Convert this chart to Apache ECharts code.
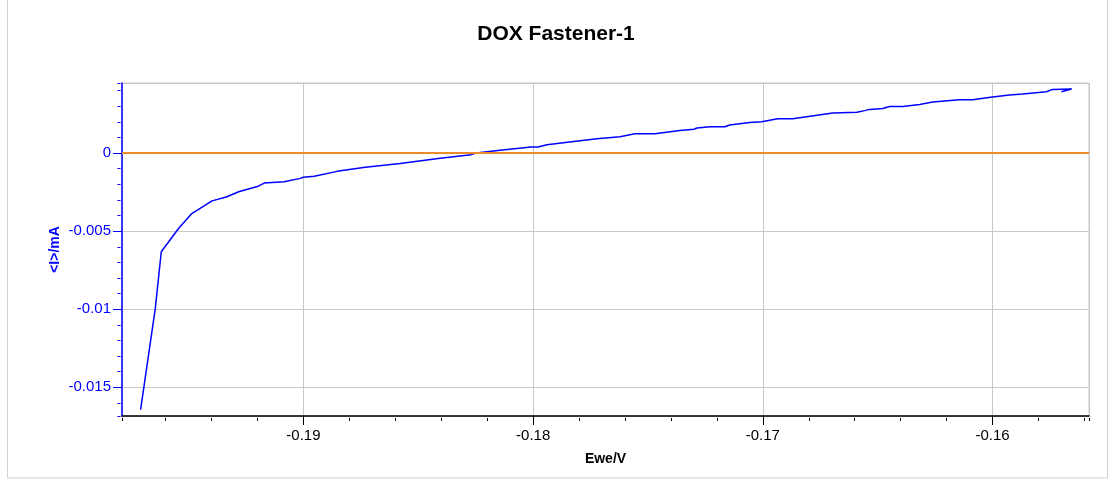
<!DOCTYPE html>
<html>
<head>
<meta charset="utf-8">
<script src="https://cdn.jsdelivr.net/npm/echarts@6/dist/echarts.min.js"></script>
<style>
  html, body { margin: 0; padding: 0; background: #fff; }
  #chart { width: 1112px; height: 481px; }
</style>
</head>
<body>
<div id="chart"></div>
<script>
// Ewe / V
const ewe = [
  -0.19709, -0.19645, -0.19619, -0.19543, -0.19488, -0.19398, -0.19336, -0.19282,
  -0.19197, -0.19171, -0.19084, -0.19014, -0.19001, -0.18953, -0.18854, -0.18731,
  -0.18579, -0.18405, -0.18270, -0.18248, -0.18144, -0.18009, -0.17979, -0.17940,
  -0.17805, -0.17722, -0.17622, -0.17557, -0.17470, -0.17361, -0.17300, -0.17287,
  -0.17230, -0.17165, -0.17144, -0.17057, -0.17005, -0.16935, -0.16870, -0.16696,
  -0.16591, -0.16556, -0.16535, -0.16478, -0.16448, -0.16391, -0.16317, -0.16261,
  -0.16144, -0.16087, -0.16000, -0.15926, -0.15869, -0.15765, -0.15739, -0.15656,
  -0.15700
];
// <I> / mA
const current = [
  -0.01643, -0.00995, -0.00632, -0.00481, -0.00390, -0.00306, -0.00281, -0.00248,
  -0.00212, -0.00192, -0.00184, -0.00162, -0.00155, -0.00148, -0.00117, -0.00091,
  -0.00066, -0.00033, -0.00010, 0.00000, 0.00019, 0.00039, 0.00039, 0.00053,
  0.00077, 0.00092, 0.00105, 0.00124, 0.00124, 0.00145, 0.00153, 0.00161,
  0.00169, 0.00169, 0.00180, 0.00196, 0.00201, 0.00220, 0.00220, 0.00257,
  0.00261, 0.00272, 0.00280, 0.00286, 0.00299, 0.00299, 0.00312, 0.00327,
  0.00342, 0.00342, 0.00359, 0.00372, 0.00379, 0.00393, 0.00408, 0.00411,
  0.00393
];

const xMin = -0.1979, xMax = -0.1558;
const yMin = -0.01684, yMax = 0.00449;

const chart = echarts.init(document.getElementById('chart'));
const font = 'Liberation Sans, Arial, sans-serif';

const option = {
  animation: false,
  title: {
    text: 'DOX Fastener-1',
    left: 'center',
    top: 19,
    textStyle: { fontSize: 21, fontWeight: 'bold', color: '#000', fontFamily: font },
  },
  graphic: [
    {
      type: 'rect',
      shape: { x: 7.5, y: -2, width: 1100, height: 480 },
      style: { fill: 'none', stroke: '#d0d0d0', lineWidth: 1 },
      silent: true,
    },
  ],
  grid: {
    left: 122,
    right: 23,
    top: 83,
    bottom: 65,
    show: true,
    borderColor: '#c8c8c8',
    borderWidth: 1,
  },
  xAxis: [
    {
      type: 'value',
      min: xMin,
      max: xMax,
      splitNumber: 4,
      name: 'Ewe/V',
      nameLocation: 'middle',
      nameGap: 36,
      nameMoveOverlap: false,
      nameTextStyle: { fontSize: 14, fontWeight: 'bold', color: '#000', fontFamily: font },
      axisLine: { onZero: false, lineStyle: { color: '#000', width: 1.5 } },
      axisTick: { length: 9, lineStyle: { color: '#000' } },
      axisLabel: {
        showMinLabel: false,
        showMaxLabel: false,
        fontSize: 15,
        color: '#000',
        fontFamily: font,
        margin: 12,
      },
      splitLine: { show: true, lineStyle: { color: '#c8c8c8', width: 1 } },
    },
    {
      type: 'value',
      min: xMin,
      max: xMax,
      splitNumber: 21,
      position: 'bottom',
      offset: 2,
      axisLine: { show: false, onZero: false },
      axisTick: { length: 3, lineStyle: { color: '#000' } },
      axisLabel: { show: false },
      splitLine: { show: false },
    },
  ],
  yAxis: [
    {
      type: 'value',
      min: yMin,
      max: yMax,
      splitNumber: 4,
      name: '<I>/mA',
      nameLocation: 'middle',
      nameGap: 60,
      nameMoveOverlap: false,
      nameTextStyle: { fontSize: 14, fontWeight: 'bold', color: '#0000ff', fontFamily: font },
      axisLine: { show: true, onZero: false, lineStyle: { color: '#0000ff', width: 1.5 } },
      axisTick: { show: true, length: 9, lineStyle: { color: '#0000ff' } },
      axisLabel: {
        showMinLabel: false,
        showMaxLabel: false,
        fontSize: 15,
        color: '#0000ff',
        fontFamily: font,
        margin: 11,
      },
      splitLine: { show: true, lineStyle: { color: '#c8c8c8', width: 1 } },
    },
    {
      type: 'value',
      min: yMin,
      max: yMax,
      splitNumber: 21,
      position: 'left',
      offset: 1.5,
      axisLine: { show: false, onZero: false },
      axisTick: { show: true, length: 3, lineStyle: { color: '#0000ff' } },
      axisLabel: { show: false },
      splitLine: { show: false },
    },
  ],
  series: [
    {
      name: '<I>/mA',
      type: 'line',
      xAxisIndex: 0,
      yAxisIndex: 0,
      showSymbol: false,
      smooth: false,
      lineStyle: { color: '#0000ff', width: 1.5 },
      data: ewe.map((x, i) => [x, current[i]]),
      markLine: {
        silent: true,
        symbol: 'none',
        label: { show: false },
        lineStyle: { color: '#ee8a2c', width: 2, type: 'solid' },
        data: [{ yAxis: 0 }],
      },
      z: 3,
    },
  ],
};

chart.setOption(option);
</script>
</body>
</html>
